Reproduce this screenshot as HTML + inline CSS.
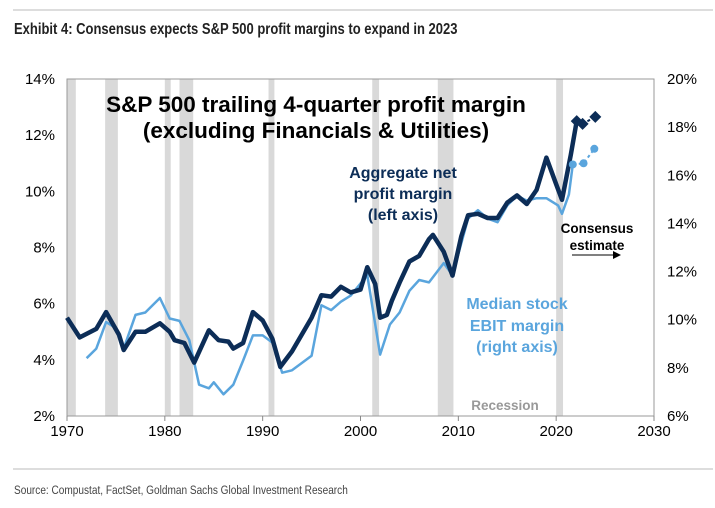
<!DOCTYPE html>
<html><head><meta charset="utf-8"><style>
body{margin:0;background:#fff;}
svg{display:block;font-family:"Liberation Sans",sans-serif;}
</style></head><body>
<svg id="c" width="715" height="508">
<line x1="13" y1="10" x2="713" y2="10" stroke="#bbb" stroke-width="1"/>
<text x="14" y="34" font-size="15.5" font-weight="bold" fill="#222" transform="translate(14,0) scale(0.84,1) translate(-14,0)">Exhibit 4: Consensus expects S&amp;P 500 profit margins to expand in 2023</text>
<g id="bands"></g>
<g id="axes"></g>
<g id="series"></g>
<text x="316" y="112" font-size="22.5" font-weight="bold" text-anchor="middle">S&amp;P 500 trailing 4-quarter profit margin</text>
<text x="316" y="138" font-size="22.5" font-weight="bold" text-anchor="middle">(excluding Financials &amp; Utilities)</text>
<g fill="#0c2d57" font-size="16" font-weight="bold" text-anchor="middle">
<text x="403" y="178">Aggregate net</text><text x="403" y="199">profit margin</text><text x="403" y="220">(left axis)</text></g>
<g fill="#5aa5dd" font-size="16" font-weight="bold" text-anchor="middle">
<text x="517" y="309">Median stock</text><text x="517" y="331">EBIT margin</text><text x="517" y="352">(right axis)</text></g>
<g font-size="13.5" font-weight="bold" text-anchor="middle">
<text x="597" y="233">Consensus</text><text x="597" y="250">estimate</text></g>
<line x1="572" y1="255" x2="613" y2="255" stroke="#000" stroke-width="1"/>
<polygon points="613,251 621,255 613,259" fill="#000"/>
<text x="505" y="410" font-size="13.5" font-weight="bold" fill="#999" text-anchor="middle">Recession</text>
<line x1="13" y1="469" x2="713" y2="469" stroke="#bbb" stroke-width="1"/>
<text x="14" y="494" font-size="12" fill="#444" transform="translate(14,0) scale(0.84,1) translate(-14,0)">Source: Compustat, FactSet, Goldman Sachs Global Investment Research</text>
</svg>
<script>
const xTicks=[1970,1980,1990,2000,2010,2020,2030];
const leftTicks=[2,4,6,8,10,12,14];
const rightTicks=[6,8,10,12,14,16,18,20];
const recStart=[1970,1973.9,1980,1981.5,1990.6,2001.2,2007.9,2020.0];
const recEnd=[1970.9,1975.2,1980.6,1982.9,1991.2,2001.9,2009.5,2020.7];
const aggYears=[1970,1971.3,1973,1974,1975.3,1975.8,1977,1978,1979.5,1980.5,1981,1982,1983,1984.5,1985.5,1986.5,1987,1988,1989,1990,1991,1991.8,1993,1995,1996,1997,1998,1999,2000,2000.7,2001.5,2002,2002.7,2003.2,2004,2005,2006,2007,2007.4,2008.5,2009.4,2010.3,2011,2012,2013,2014,2015,2016,2017,2018,2019,2020,2020.6,2021.5,2022.1];
const aggVals=[5.5,4.8,5.1,5.7,4.9,4.35,5.0,5.0,5.3,5.0,4.7,4.6,3.9,5.05,4.7,4.65,4.4,4.6,5.7,5.4,4.75,3.75,4.3,5.5,6.3,6.25,6.6,6.4,6.5,7.3,6.7,5.5,5.6,6.1,6.75,7.5,7.7,8.3,8.45,7.85,7.0,8.4,9.15,9.2,9.05,9.05,9.6,9.85,9.55,10.05,11.2,10.25,9.7,11.3,12.5];
const aggEstYears=[2022.1,2022.7,2024];
const aggEstVals=[12.5,12.4,12.65];
const medYears=[1972,1973,1974,1975,1975.8,1977,1978,1979.5,1980.5,1981.5,1982.5,1983.5,1984.5,1985,1986,1987,1988,1989,1990,1991,1992,1993,1995,1996,1997,1998,1999,2000.7,2002,2003,2004,2005,2006,2007,2008.5,2009.4,2011,2012,2013,2014,2015,2016,2017,2018,2019,2020.2,2020.6,2021.3,2021.7];
const medVals=[8.4,8.8,9.9,9.65,8.8,10.2,10.3,10.9,10.05,9.95,9.15,7.3,7.15,7.4,6.9,7.3,8.3,9.35,9.35,9.05,7.8,7.9,8.5,10.6,10.4,10.75,11.0,11.85,8.55,9.8,10.3,11.2,11.65,11.55,12.35,11.85,14.2,14.55,14.2,14.05,14.75,15.15,14.95,15.05,15.05,14.75,14.4,15.2,16.45];
const medEstYears=[2021.7,2022.8,2023.9];
const medEstVals=[16.45,16.5,17.1];

const X0=67,X1=654,T=79,B=416;
const xs=y=>X0+(y-1970)/60*(X1-X0);
const yl=v=>B-(v-2)/12*(B-T);
const yr=v=>B-(v-6)/14*(B-T);
const NS='http://www.w3.org/2000/svg';
function mk(tag,attrs,parent){const e=document.createElementNS(NS,tag);for(const k in attrs)e.setAttribute(k,attrs[k]);parent.appendChild(e);return e;}
const bands=document.getElementById('bands'),axes=document.getElementById('axes'),ser=document.getElementById('series');
recStart.forEach((s,i)=>{const r=mk('rect',{x:xs(s),y:T,width:xs(recEnd[i])-xs(s),height:B-T,fill:'#d9d9d9'},bands);

});
mk('rect',{x:X0,y:T,width:X1-X0,height:B-T,fill:'none',stroke:'#999'},axes);
xTicks.forEach(t=>{mk('line',{x1:xs(t),y1:B,x2:xs(t),y2:B+5,stroke:'#888'},axes);
const e=mk('text',{x:xs(t),y:B+20,'font-size':15,'text-anchor':'middle'},axes);e.textContent=t;

});
leftTicks.forEach(t=>{const e=mk('text',{x:X0-12,y:yl(t)+5,'font-size':15,'text-anchor':'end'},axes);e.textContent=t+'%';

});
rightTicks.forEach(t=>{const e=mk('text',{x:X1+13,y:yr(t)+5,'font-size':15},axes);e.textContent=t+'%';

});
function pts(ys,vs,f){return ys.map((y,i)=>xs(y).toFixed(1)+','+f(vs[i]).toFixed(1)).join(' ');}
const m=mk('polyline',{points:pts(medYears,medVals,yr),fill:'none',stroke:'#5aa5dd','stroke-width':2.5,'stroke-linejoin':'round'},ser);


const a=mk('polyline',{points:pts(aggYears,aggVals,yl),fill:'none',stroke:'#0c2d57','stroke-width':4.5,'stroke-linejoin':'round'},ser);


mk('polyline',{points:pts(medEstYears,medEstVals,yr),fill:'none',stroke:'#5aa5dd','stroke-width':2,'stroke-dasharray':'3,3'},ser);
mk('polyline',{points:pts(aggEstYears,aggEstVals,yl),fill:'none',stroke:'#0c2d57','stroke-width':2,'stroke-dasharray':'3,3'},ser);
medEstYears.forEach((y,i)=>{const c=mk('circle',{cx:xs(y),cy:yr(medEstVals[i]),r:4,fill:'#5aa5dd'},ser);

});
aggEstYears.forEach((y,i)=>{const cx=xs(y),cy=yl(aggEstVals[i]);
const d=mk('polygon',{points:`${cx},${cy-6} ${cx+6},${cy} ${cx},${cy+6} ${cx-6},${cy}`,fill:'#0c2d57'},ser);

});
</script>
</body></html>
